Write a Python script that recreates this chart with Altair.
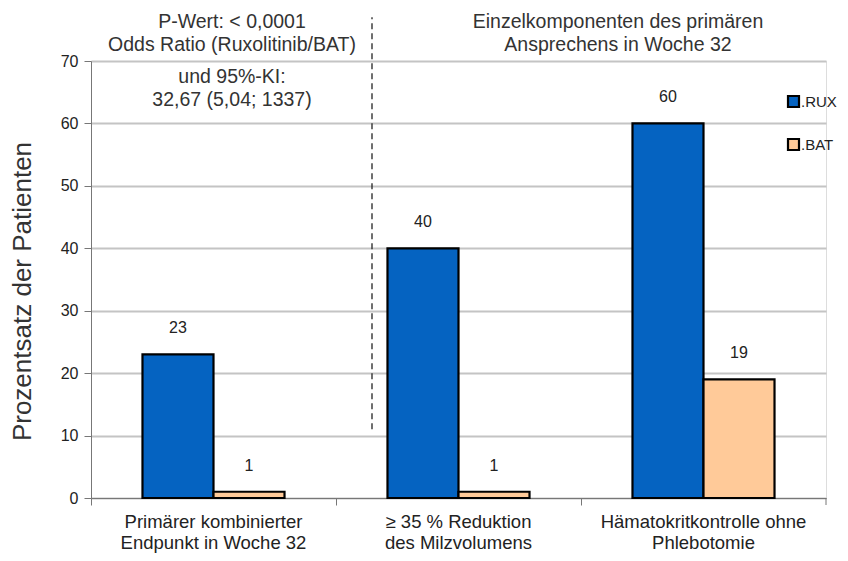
import altair as alt
import pandas as pd

categories = [
    "Primärer kombinierter\nEndpunkt in Woche 32",
    "≥ 35 % Reduktion\ndes Milzvolumens",
    "Hämatokritkontrolle ohne\nPhlebotomie",
]
series = ["RUX", "BAT"]
rux_values = [23, 40, 60]
bat_values = [1, 1, 19]
y_ticks = [0, 10, 20, 30, 40, 50, 60, 70]

rows = []
for c, r, b in zip(categories, rux_values, bat_values):
    rows.append({"cat": c, "series": "RUX", "value": r})
    rows.append({"cat": c, "series": "BAT", "value": b})
df = pd.DataFrame(rows)

colors = ["#0563C1", "#FFCA99"]
num_font = "Liberation Sans"
txt_font = "Liberation Sans"

x_enc = alt.X("cat:N", sort=categories, title=None,
              scale=alt.Scale(paddingInner=0, paddingOuter=0),
              axis=alt.Axis(labelExpr="split(datum.value, '\\n')", labelAngle=0,
                            labelFont=txt_font, labelFontSize=18.5, labelColor="#222",
                            labelLineHeight=21, labelPadding=7, labelLimit=400,
                            bandPosition=0, ticks=True, tickSize=7, tickColor="#777",
                            domainColor="#777", grid=False))
y_enc = alt.Y("value:Q", title="Prozentsatz der Patienten",
              scale=alt.Scale(domain=[0, 70], nice=False),
              axis=alt.Axis(values=y_ticks, labelFont=num_font, labelFontSize=16,
                            labelColor="#222", tickSize=7, tickColor="#777",
                            domainColor="#777", gridColor="#c4c4c4", gridWidth=2,
                            titleFont=txt_font, titleFontSize=26, titleFontWeight="normal",
                            titleColor="#333", titleX=-69, titleY=230,
                            titleBaseline="middle", labelPadding=6))
xoff = alt.XOffset("series:N", sort=series,
                   scale=alt.Scale(paddingOuter=0.725, paddingInner=0))

bars = alt.Chart(df).mark_bar(stroke="black", strokeWidth=2.2).encode(
    x=x_enc, y=y_enc, xOffset=xoff,
    color=alt.Color("series:N", sort=series,
                    scale=alt.Scale(domain=series, range=colors),
                    legend=alt.Legend(title=None, orient="none", legendX=695, legendY=33,
                                      symbolType="square", symbolSize=121,
                                      symbolStrokeColor="black", symbolStrokeWidth=2.2,
                                      labelExpr="'.' + datum.label", labelFont=num_font,
                                      labelFontSize=15, labelColor="#222",
                                      rowPadding=22, labelOffset=0)),
)

labels = alt.Chart(df).mark_text(font=num_font, fontSize=16, color="#222",
                                 baseline="middle", dy=-26).encode(
    x=alt.X("cat:N", sort=categories), xOffset=xoff, y="value:Q", text="value:Q"
)

end_tick = alt.Chart(pd.DataFrame({"a": [0]})).mark_rule(color="#777").encode(
    x=alt.value(735), y=alt.value(437), y2=alt.value(444)
)

divider = alt.Chart(pd.DataFrame({"y1": [11], "y2": [77]})).mark_rule(
    color="#222", strokeDash=[6, 4], strokeWidth=1.3
).encode(x=alt.value(281), y="y1:Q", y2="y2:Q")

notes_left = ["P-Wert: < 0,0001", "Odds Ratio (Ruxolitinib/BAT)", "und 95%-KI:", "32,67 (5,04; 1337)"]
notes_left_y = [-33, -10, 22, 45]
notes_right = ["Einzelkomponenten des primären", "Ansprechens in Woche 32"]
notes_right_y = [-33, -10]

note_layers = []
for t, yy in zip(notes_left, notes_left_y):
    note_layers.append(alt.Chart(pd.DataFrame({"t": [t]})).mark_text(
        font=txt_font, fontSize=19.5, color="#333", align="center", baseline="alphabetic"
    ).encode(x=alt.value(141), y=alt.value(yy), text="t:N"))
for t, yy in zip(notes_right, notes_right_y):
    note_layers.append(alt.Chart(pd.DataFrame({"t": [t]})).mark_text(
        font=txt_font, fontSize=19.5, color="#333", align="center", baseline="alphabetic"
    ).encode(x=alt.value(527), y=alt.value(yy), text="t:N"))

chart = alt.layer(bars, labels, end_tick, divider, *note_layers).properties(
    width=735, height=437,
    autosize=alt.AutoSizeParams(type="none"),
    padding={"left": 83, "top": 53, "right": 14, "bottom": 55},
).configure_view(stroke=None).configure(background="white")

chart.save("out.html", embed_options={"renderer": "svg", "actions": False})
